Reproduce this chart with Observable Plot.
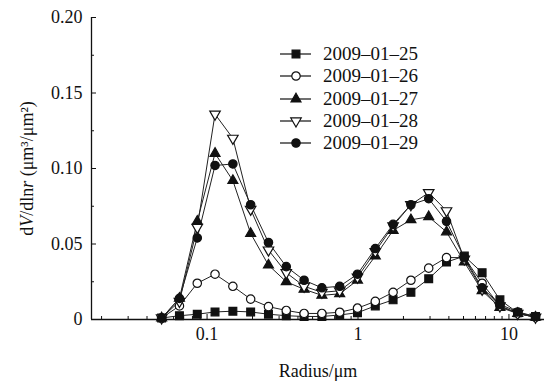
<!DOCTYPE html>
<html><head><meta charset="utf-8">
<script src="https://cdn.jsdelivr.net/npm/d3@7"></script>
<script src="https://cdn.jsdelivr.net/npm/@observablehq/plot@0.6"></script>
<style>
body{margin:0;background:#fff;}
#wrap{position:relative;width:544px;height:381px;font-family:"Liberation Serif","Times New Roman",serif;}
#legend{position:absolute;left:280px;top:43px;font-size:19px;color:#111;}
.row{display:flex;align-items:center;height:22.3px;white-space:nowrap;}
.row svg{display:block;margin-right:12px;overflow:visible}
</style></head><body><div id="wrap"></div>
<script>
// Radius bins (μm)
const radius = [0.05, 0.0656, 0.0861, 0.1129, 0.1482, 0.1944, 0.2551, 0.3347, 0.4392, 0.5762, 0.7561, 0.9920, 1.3016, 1.7078, 2.2407, 2.9400, 3.8575, 5.0613, 6.6407, 8.7131, 11.4323, 15.0];
const dates = ["2009–01–25", "2009–01–26", "2009–01–27", "2009–01–28", "2009–01–29"];
const v0125 = [0.001, 0.0025, 0.0035, 0.005, 0.0055, 0.005, 0.0035, 0.0025, 0.002, 0.002, 0.003, 0.0045, 0.009, 0.013, 0.018, 0.027, 0.038, 0.042, 0.031, 0.013, 0.0045, 0.002];
const v0126 = [0.001, 0.009, 0.024, 0.030, 0.022, 0.0135, 0.0085, 0.006, 0.004, 0.004, 0.0048, 0.0075, 0.012, 0.018, 0.026, 0.034, 0.041, 0.041, 0.024, 0.009, 0.004, 0.0015];
const v0127 = [0.001, 0.014, 0.065, 0.110, 0.092, 0.057, 0.036, 0.025, 0.020, 0.016, 0.017, 0.026, 0.042, 0.059, 0.066, 0.068, 0.058, 0.038, 0.019, 0.008, 0.004, 0.0015];
const v0128 = [0.001, 0.012, 0.061, 0.136, 0.120, 0.073, 0.046, 0.031, 0.022, 0.018, 0.019, 0.028, 0.045, 0.062, 0.076, 0.084, 0.072, 0.040, 0.020, 0.009, 0.004, 0.0015];
const v0129 = [0.001, 0.014, 0.054, 0.102, 0.103, 0.076, 0.051, 0.035, 0.026, 0.021, 0.022, 0.030, 0.047, 0.063, 0.076, 0.080, 0.065, 0.041, 0.021, 0.010, 0.005, 0.002];
const seriesValues = [v0125, v0126, v0127, v0128, v0129];
const xMajorTicks = [0.1, 1, 10];
const xMinorTicks = [0.02,0.03,0.04,0.05,0.06,0.07,0.08,0.09,0.2,0.3,0.4,0.5,0.6,0.7,0.8,0.9,2,3,4,5,6,7,8,9];
const yMajorTicks = [0, 0.05, 0.10, 0.15, 0.20];
const yMinorTicks = [0.025, 0.075, 0.125, 0.175];

const triangleDown = {draw(context, size) {
  const s3 = Math.sqrt(3);
  const y = -Math.sqrt(size / (s3 * 3));
  context.moveTo(0, -y * 2);
  context.lineTo(-s3 * y, y);
  context.lineTo(s3 * y, y);
  context.closePath();
}};
const styles = [
  {symbol: "square", fill: "#111", r: 4.4},
  {symbol: "circle", fill: "white", r: 4.2},
  {symbol: "triangle", fill: "#111", r: 3.7},
  {symbol: triangleDown, fill: "white", r: 3.9},
  {symbol: "circle", fill: "#111", r: 4.2}
];

const rows = dates.map((date, k) => seriesValues[k].map((v, i) => ({date, k, r: radius[i], v})));

const marks = [];
rows.forEach((data, k) => {
  marks.push(Plot.line(data, {x: "r", y: "v", stroke: "#222", strokeWidth: 1}));
});
rows.forEach((data, k) => {
  const st = styles[k];
  marks.push(Plot.dot(data, {x: "r", y: "v", symbol: () => st.symbol, r: st.r, fill: st.fill, stroke: "#111", strokeWidth: 1.2}));
});

const chart = Plot.plot({
  width: 544, height: 381,
  marginLeft: 91, marginRight: 0, marginTop: 17, marginBottom: 62,
  style: {fontFamily: '"Liberation Serif","Times New Roman",serif', fontSize: "18px", color: "#111", background: "white"},
  x: {type: "log", domain: [0.01715, 17.2]},
  y: {domain: [0, 0.20]},
  symbol: {type: "identity"},
  marks: [
    Plot.ruleY([0], {stroke: "#111", strokeWidth: 1.3}),
    Plot.ruleX([0.01715], {stroke: "#111", strokeWidth: 1.3}),
    Plot.axisX({ticks: xMinorTicks, tickSize: -3, tickFormat: () => "", label: null}),
    Plot.axisX({ticks: xMajorTicks, tickSize: -5, tickPadding: 13, tickFormat: d => String(d), label: "Radius/μm", labelAnchor: "center", labelOffset: 57, labelArrow: false}),
    Plot.axisY({ticks: yMinorTicks, tickSize: -3, tickFormat: () => "", label: null}),
    Plot.axisY({ticks: yMajorTicks, tickSize: -5, tickPadding: 14, tickFormat: d => d === 0 ? "0" : d.toFixed(2), label: "dV/dlnr (μm³/μm²)", labelAnchor: "center", labelOffset: 71, labelArrow: false}),
    ...marks
  ]
});
document.getElementById("wrap").appendChild(chart);

// italic V and r in the y label
chart.querySelectorAll("text").forEach(t => {
  if (t.textContent.startsWith("dV/dln")) {
    t.textContent = "";
    const parts = [["d", false], ["V", true], ["/dln", false], ["r", true], [" (μm³/μm²)", false]];
    for (const [s, it] of parts) {
      const ts = document.createElementNS("http://www.w3.org/2000/svg", "tspan");
      ts.textContent = s;
      if (it) ts.setAttribute("font-style", "italic");
      t.appendChild(ts);
    }
  }
});

// legend
const legend = document.createElement("div");
legend.id = "legend";
dates.forEach((date, k) => {
  const st = styles[k];
  const row = document.createElement("div");
  row.className = "row";
  const svg = d3.create("svg").attr("width", 31).attr("height", 14);
  svg.append("line").attr("x1", 0).attr("x2", 31).attr("y1", 7).attr("y2", 7).attr("stroke", "#222").attr("stroke-width", 1.3);
  const sym = typeof st.symbol === "string" ? {square: d3.symbolSquare, circle: d3.symbolCircle, triangle: d3.symbolTriangle}[st.symbol] : st.symbol;
  svg.append("path").attr("transform", "translate(16,7)").attr("d", d3.symbol(sym, Math.PI * st.r * st.r)())
    .attr("fill", st.fill).attr("stroke", "#111").attr("stroke-width", 1.2);
  row.appendChild(svg.node());
  const span = document.createElement("span");
  span.textContent = date;
  row.appendChild(span);
  legend.appendChild(row);
});
document.getElementById("wrap").appendChild(legend);
</script></body></html>
